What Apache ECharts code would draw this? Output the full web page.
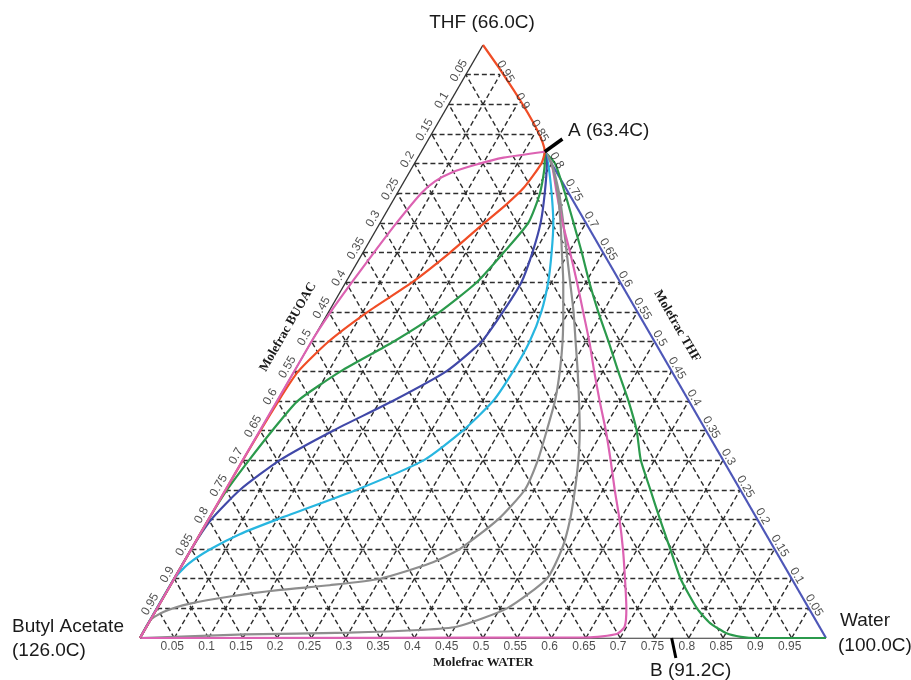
<!DOCTYPE html>
<html><head><meta charset="utf-8">
<script src="https://cdn.jsdelivr.net/npm/echarts@6/dist/echarts.min.js"></script>
<style>html,body{margin:0;padding:0;background:#fff}#c{width:911px;height:680px}</style>
</head><body><div id="c"></div>
<script>
// ---- data: compositions as [water fraction, THF fraction] ----
const TICKS = [0.05,0.1,0.15,0.2,0.25,0.3,0.35,0.4,0.45,0.5,0.55,0.6,0.65,0.7,0.75,0.8,0.85,0.9,0.95];
const TICK_LABELS = ['0.05','0.1','0.15','0.2','0.25','0.3','0.35','0.4','0.45','0.5','0.55','0.6','0.65','0.7','0.75','0.8','0.85','0.9','0.95'];
const pointA = [0.18, 0.82];
const pointB = [0.775, 0];
const tickAEnd = [0.195, 0.8415];
const tickBEnd = [0.798, -0.0337];

const pinkUpper = [[0.18,0.82],[0.125,0.81],[0.09,0.798],[0.062,0.785],[0.045,0.77],[0.035,0.75],[0.024,0.7],[0.016,0.65],[0.009,0.6],[0.003,0.55],[0,0.5],[0,0]];
const orange = [[0,1],[0.18,0.82],[0.185,0.8],[0.18,0.76],[0.168,0.73],[0.152,0.7],[0.127,0.65],[0.097,0.6],[0.057,0.55],[0.025,0.5],[0.006,0.45],[0.002,0.4],[0,0.3],[0,0]];
const green1 = [[0.18,0.82],[0.19,0.8],[0.208,0.75],[0.216,0.7],[0.205,0.65],[0.191,0.6],[0.162,0.55],[0.12,0.5],[0.068,0.45],[0.03,0.4],[0.018,0.35],[0.009,0.3],[0.002,0.25],[0,0.2],[0,0]];
const navy = [[0.18,0.82],[0.193,0.8],[0.215,0.75],[0.234,0.7],[0.247,0.65],[0.256,0.6],[0.254,0.55],[0.248,0.5],[0.222,0.45],[0.169,0.4],[0.107,0.35],[0.054,0.3],[0.021,0.25],[0.004,0.2],[0,0.15],[0,0]];
const cyan = [[0.18,0.82],[0.195,0.8],[0.225,0.75],[0.2525,0.7],[0.275,0.65],[0.295,0.6],[0.31,0.55],[0.318,0.5],[0.319,0.45],[0.315,0.4],[0.296,0.35],[0.264,0.3],[0.191,0.25],[0.1,0.2],[0.058,0.175],[0.028,0.15],[0.008,0.125],[0,0.1],[0,0]];
const gray1 = [[0.18,0.82],[0.2,0.8],[0.234,0.75],[0.263,0.7],[0.29,0.65],[0.317,0.6],[0.342,0.55],[0.366,0.5],[0.387,0.45],[0.405,0.4],[0.418,0.35],[0.43,0.3],[0.436,0.25],[0.422,0.2],[0.391,0.15],[0.36,0.126],[0.30,0.1],[0.232,0.089],[0.164,0.081],[0.096,0.07],[0.044,0.058],[0.012,0.044],[0,0.03],[0,0]];
const gray2 = [[0.18,0.82],[0.2,0.8],[0.236,0.75],[0.267,0.7],[0.297,0.65],[0.327,0.6],[0.357,0.55],[0.385,0.5],[0.413,0.45],[0.44,0.4],[0.466,0.35],[0.489,0.3],[0.509,0.25],[0.527,0.2],[0.54,0.15],[0.543,0.1],[0.51,0.05],[0.452,0.019],[0.40,0.0135],[0.3,0.009],[0.15,0.006],[0,0]];
const pinkLower = [[0.18,0.82],[0.2,0.8],[0.2325,0.75],[0.266,0.7],[0.302,0.65],[0.337,0.6],[0.371,0.55],[0.405,0.5],[0.437,0.45],[0.47,0.4],[0.504,0.35],[0.536,0.3],[0.567,0.25],[0.599,0.2],[0.629,0.15],[0.657,0.1],[0.684,0.05],[0.697,0.019],[0.6915,0.0067],[0.652,0.001],[0,0]];
const green2 = [[0.18,0.82],[0.205,0.8],[0.2445,0.75],[0.282,0.7],[0.319,0.65],[0.355,0.6],[0.393,0.55],[0.433,0.5],[0.472,0.45],[0.512,0.4],[0.549,0.35],[0.58,0.3],[0.619,0.25],[0.658,0.2],[0.698,0.15],[0.738,0.1],[0.787,0.05],[0.8185,0.025],[0.851,0.008],[0.875,0.002],[0.9,0],[1,0]];
const blueEdge = [[0.18,0.82],[1,0]];

// ---- styles ----
const PINK = '#dc62b2', ORANGE = '#f04d26', GREEN = '#2b9a4c', NAVY = '#4048a8', CYAN = '#27b6e0', GRAY = '#8e8e8e', BLUE = '#4e57b8';
const GX = 686, GY = 593; // grid pixel size
// ternary [water, thf] -> cartesian [x, y]
const T = p => [p[0] + p[1] / 2, p[1]];
const shiftPx = (p, dx, dy) => [p[0] + dx / GX, p[1] - dy / GY];

const chart = echarts.init(document.getElementById('c'));

const gridLines = [];
TICKS.forEach(v => {
  gridLines.push({coords: [T([0, v]), T([1 - v, v])]});     // constant THF
  gridLines.push({coords: [T([v, 0]), T([v, 1 - v])]});     // constant water
  gridLines.push({coords: [T([1 - v, 0]), T([0, 1 - v])]}); // constant BuAc
});

const series = [];
series.push({type: 'lines', coordinateSystem: 'cartesian2d', silent: true, z: 1,
  data: gridLines, lineStyle: {color: '#2e2e2e', width: 1.4, type: [5, 3], opacity: 1}});
series.push({type: 'lines', coordinateSystem: 'cartesian2d', silent: true, z: 2,
  data: [{coords: [T([0, 0]), T([0, 1])]}, {coords: [T([0, 0]), T([1, 0])]}],
  lineStyle: {color: '#333', width: 1.4, type: 'solid', opacity: 1}});

const curves = [
  [blueEdge, BLUE], [green2, GREEN], [gray2, GRAY], [pinkLower, PINK], [gray1, GRAY],
  [cyan, CYAN], [navy, NAVY], [green1, GREEN], [orange, ORANGE], [pinkUpper, PINK]
];
curves.forEach(([d, col]) => series.push({type: 'line', data: d.map(T), symbol: 'none', showSymbol: false,
  smooth: 0.2, clip: false, silent: true, z: 3, lineStyle: {color: col, width: 2.2}}));

[[pointA, tickAEnd, 3.5], [pointB, tickBEnd, 3]].forEach(([a, b, w]) => series.push({type: 'line',
  data: [T(a), T(b)], symbol: 'none', clip: false, silent: true, z: 4, lineStyle: {color: '#000', width: w}}));

function labelSeries(points, rotate) {
  return {type: 'scatter', symbolSize: 1, itemStyle: {color: 'rgba(0,0,0,0)'}, clip: false, silent: true, z: 5,
    data: points.map((p, i) => ({value: p, name: TICK_LABELS[i]})),
    label: {show: true, position: 'inside', formatter: '{b}', rotate: rotate, color: '#1e1e1e', fontSize: 12,
      fontFamily: '"Liberation Sans", Arial, sans-serif', align: 'center', verticalAlign: 'middle'}};
}
series.push(labelSeries(TICKS.map(v => shiftPx(T([v, 0]), -2, 9)), 0));
series.push(labelSeries(TICKS.map(v => shiftPx(T([0, 1 - v]), -0.866 * 8, -0.5 * 8)), 60));
series.push(labelSeries(TICKS.map(v => shiftPx(T([1 - v, v]), 0.866 * 6, -0.5 * 6)), -60));

const SANS = '19px "Liberation Sans", Arial, sans-serif';
const SERIF = 'bold 13px "Liberation Serif", "Times New Roman", serif';
const txt = (text, x, y, font, align, rot) => ({type: 'text', x, y, rotation: rot || 0, z: 10,
  style: {text, font, fill: '#1a1a1a', textAlign: align, textVerticalAlign: 'middle'}});

chart.setOption({
  animation: false,
  grid: {left: 140, top: 45, width: GX, height: GY, outerBoundsMode: 'none'},
  xAxis: {type: 'value', min: 0, max: 1, show: false},
  yAxis: {type: 'value', min: 0, max: 1, show: false},
  series,
  graphic: [
    txt('THF (66.0C)', 482, 23, SANS, 'center'),
    txt('A (63.4C)', 568, 131, SANS, 'left'),
    txt('B (91.2C)', 650, 671, SANS, 'left'),
    txt('Water', 840, 621, SANS, 'left'),
    txt('(100.0C)', 838, 646, SANS, 'left'),
    txt('Butyl Acetate', 12, 627, SANS, 'left'),
    txt('(126.0C)', 12, 651, SANS, 'left'),
    txt('Molefrac WATER', 433, 663, SERIF, 'left'),
    txt('Molefrac BUOAC', 288, 327, SERIF, 'center', Math.PI / 3),
    txt('Molefrac THF', 677, 326, SERIF, 'center', -Math.PI / 3)
  ]
});
</script></body></html>
